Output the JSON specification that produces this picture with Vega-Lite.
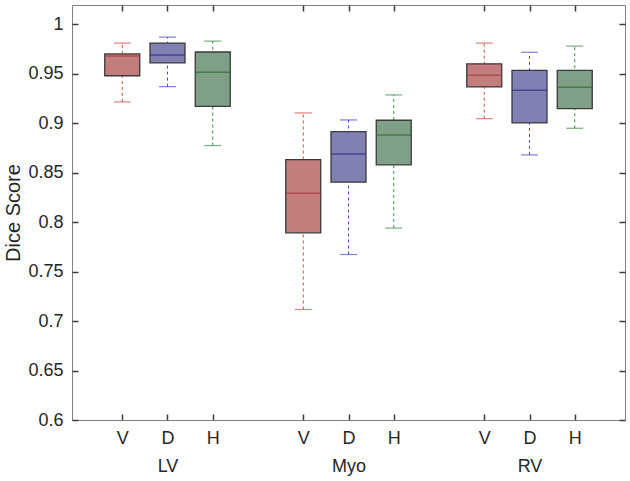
{
  "$schema": "https://vega.github.io/schema/vega-lite/v6.json",
  "width": 553,
  "height": 415,
  "autosize": "none",
  "padding": {"left": 72, "top": 5, "right": 5, "bottom": 61},
  "background": "white",
  "config": {
    "view": {"stroke": "#808080", "strokeWidth": 1},
    "font": "Liberation Sans",
    "axis": {
      "grid": false,
      "domainColor": "#808080",
      "labelColor": "#262626",
      "labelFont": "Liberation Sans",
      "labelFontSize": 18,
      "titleFont": "Liberation Sans",
      "titleColor": "#262626"
    }
  },
  "data": {
    "values": [
      {"organ": "LV", "method": "V", "pos": 1, "lo": 0.9215, "q1": 0.948, "med": 0.968, "q3": 0.970, "hi": 0.981},
      {"organ": "LV", "method": "D", "pos": 2, "lo": 0.937, "q1": 0.961, "med": 0.969, "q3": 0.981, "hi": 0.987},
      {"organ": "LV", "method": "H", "pos": 3, "lo": 0.8774, "q1": 0.917, "med": 0.9515, "q3": 0.972, "hi": 0.983},
      {"organ": "Myo", "method": "V", "pos": 5, "lo": 0.7117, "q1": 0.7892, "med": 0.8293, "q3": 0.8632, "hi": 0.9104},
      {"organ": "Myo", "method": "D", "pos": 6, "lo": 0.7673, "q1": 0.8404, "med": 0.869, "q3": 0.8915, "hi": 0.9033},
      {"organ": "Myo", "method": "H", "pos": 7, "lo": 0.794, "q1": 0.8579, "med": 0.888, "q3": 0.903, "hi": 0.9286},
      {"organ": "RV", "method": "V", "pos": 9, "lo": 0.9046, "q1": 0.9367, "med": 0.9485, "q3": 0.960, "hi": 0.981},
      {"organ": "RV", "method": "D", "pos": 10, "lo": 0.868, "q1": 0.9003, "med": 0.9333, "q3": 0.9535, "hi": 0.9717},
      {"organ": "RV", "method": "H", "pos": 11, "lo": 0.8949, "q1": 0.9147, "med": 0.9364, "q3": 0.9535, "hi": 0.978}
    ]
  },
  "resolve": {"scale": {"color": "independent"}, "axis": {"x": "independent", "y": "independent"}},
  "layer": [
    {
      "mark": {"type": "rule", "strokeDash": [3, 3], "strokeWidth": 1},
      "encoding": {
        "x": {"field": "pos", "type": "quantitative", "scale": {"domain": [0, 12], "nice": false, "zero": false},
          "axis": {"orient": "bottom", "values": [1, 2, 3, 5, 6, 7, 9, 10, 11], "title": null, "offset": -6, "ticks": true, "tickSize": 6, "tickWidth": 1.5, "tickColor": "#3c3c3c", "domain": false, "labelPadding": 9,
            "labelExpr": "(datum.value % 4 == 1) ? 'V' : ((datum.value % 4 == 2) ? 'D' : 'H')"}},
        "y": {"field": "lo", "type": "quantitative", "scale": {"domain": [0.6, 1.0195], "nice": false, "zero": false},
          "axis": {"orient": "left", "values": [0.6, 0.65, 0.7, 0.75, 0.8, 0.85, 0.9, 0.95, 1], "format": "~g", "offset": -6, "ticks": true, "tickSize": 6, "tickWidth": 1.5, "tickColor": "#3c3c3c", "domain": false, "labelPadding": 9,
            "title": "Dice Score", "titleFontSize": 20, "titleFontWeight": "normal", "titlePadding": 4}},
        "y2": {"field": "hi"},
        "color": {"field": "method", "type": "nominal", "legend": null,
          "scale": {"domain": ["V", "D", "H"], "range": ["#d24a4a", "#4a4ac2", "#3f8a48"]}}
      }
    },
    {
      "mark": {"type": "tick", "orient": "horizontal", "size": 17, "thickness": 1.2},
      "encoding": {
        "x": {"field": "pos", "type": "quantitative", "scale": {"domain": [0, 12], "nice": false, "zero": false},
          "axis": {"orient": "top", "values": [1, 2, 3, 5, 6, 7, 9, 10, 11], "title": null, "offset": -6, "ticks": true, "tickSize": 6, "tickWidth": 1.5, "tickColor": "#3c3c3c", "labels": false, "domain": false}},
        "y": {"field": "lo", "type": "quantitative", "scale": {"domain": [0.6, 1.0195], "nice": false, "zero": false},
          "axis": {"orient": "right", "values": [0.6, 0.65, 0.7, 0.75, 0.8, 0.85, 0.9, 0.95, 1], "title": null, "offset": -6, "ticks": true, "tickSize": 6, "tickWidth": 1.5, "tickColor": "#3c3c3c", "labels": false, "domain": false}},
        "color": {"field": "method", "type": "nominal", "legend": null,
          "scale": {"domain": ["V", "D", "H"], "range": ["#d24a4a", "#4a4ac2", "#3f8a48"]}}
      }
    },
    {
      "mark": {"type": "tick", "orient": "horizontal", "size": 17, "thickness": 1.2},
      "encoding": {
        "x": {"field": "pos", "type": "quantitative", "scale": {"domain": [0, 12], "nice": false, "zero": false},
          "axis": {"orient": "bottom", "values": [2, 6, 10], "title": null, "ticks": false, "domain": false, "labelPadding": 37,
            "labelExpr": "datum.value == 2 ? 'LV' : (datum.value == 6 ? 'Myo' : 'RV')"}},
        "y": {"field": "hi", "type": "quantitative", "scale": {"domain": [0.6, 1.0195], "nice": false, "zero": false}, "axis": null},
        "color": {"field": "method", "type": "nominal", "legend": null,
          "scale": {"domain": ["V", "D", "H"], "range": ["#d24a4a", "#4a4ac2", "#3f8a48"]}}
      }
    },
    {
      "mark": {"type": "bar", "size": 35, "stroke": "#3a3a3a", "strokeWidth": 1.3, "opacity": 1},
      "encoding": {
        "x": {"field": "pos", "type": "quantitative", "scale": {"domain": [0, 12], "nice": false, "zero": false}, "axis": null},
        "y": {"field": "q1", "type": "quantitative", "scale": {"domain": [0.6, 1.0195], "nice": false, "zero": false}, "axis": null},
        "y2": {"field": "q3"},
        "fill": {"field": "method", "type": "nominal", "legend": null,
          "scale": {"domain": ["V", "D", "H"], "range": ["#c47d7d", "#8080b3", "#7f9f86"]}}
      }
    },
    {
      "mark": {"type": "tick", "orient": "horizontal", "size": 35, "thickness": 1.5},
      "encoding": {
        "x": {"field": "pos", "type": "quantitative", "scale": {"domain": [0, 12], "nice": false, "zero": false}, "axis": null},
        "y": {"field": "med", "type": "quantitative", "scale": {"domain": [0.6, 1.0195], "nice": false, "zero": false}, "axis": null},
        "color": {"field": "method", "type": "nominal", "legend": null,
          "scale": {"domain": ["V", "D", "H"], "range": ["#a33a3a", "#2c2c8c", "#2e6b37"]}}
      }
    }
  ]
}
